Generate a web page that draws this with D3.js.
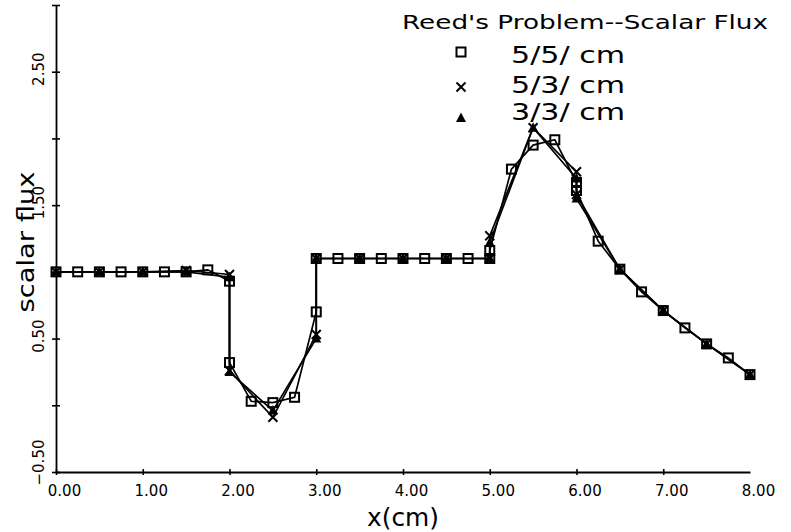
<!DOCTYPE html>
<html>
<head>
<meta charset="utf-8">
<script src="https://cdn.jsdelivr.net/npm/d3@7"></script>
<style>
  body { margin: 0; background: #fff; }
  svg text { font-family: "DejaVu Sans", sans-serif; fill: #000; }
</style>
</head>
<body>
<div class="canvas"></div>
<script>
// mesh points (a point appears twice where the flux jumps at a region edge)
const x55 = [0, 0.25, 0.5, 0.75, 1, 1.25, 1.5, 1.75, 2,
  2, 2.25, 2.5, 2.75, 3,
  3, 3.25, 3.5, 3.75, 4, 4.25, 4.5, 4.75, 5,
  5, 5.25, 5.5, 5.75, 6,
  6, 6.25, 6.5, 6.75, 7, 7.25, 7.5, 7.75, 8];
const flux55 = [1.0, 1.0, 1.0, 1.0, 1.0, 1.0, 1.0, 1.015, 0.93,
  0.32, 0.03, 0.02, 0.06, 0.70,
  1.10, 1.10, 1.10, 1.10, 1.10, 1.10, 1.10, 1.10, 1.10,
  1.16, 1.77, 1.95, 1.99, 1.67,
  1.61, 1.23, 1.02, 0.85, 0.71, 0.58, 0.46, 0.355, 0.23];

const x53 = [0, 0.5, 1, 1.5, 2,
  2, 2.5, 3,
  3, 3.5, 4, 4.5, 5,
  5, 5.5, 6,
  6, 6.5, 7, 7.5, 8];
const flux53 = [1.0, 1.0, 1.0, 1.01, 0.98,
  0.26, -0.09, 0.53,
  1.10, 1.10, 1.10, 1.10, 1.10,
  1.27, 2.08, 1.75,
  1.58, 1.02, 0.71, 0.46, 0.23];

const x33 = x53;
const flux33 = [1.0, 1.0, 1.0, 1.0, 0.96,
  0.25, -0.04, 0.50,
  1.10, 1.10, 1.10, 1.10, 1.10,
  1.22, 2.08, 1.70,
  1.55, 1.02, 0.71, 0.46, 0.23];

const seriesNames = ['5/5/ cm', '5/3/ cm', '3/3/ cm'];
const xTicks = [0, 1, 2, 3, 4, 5, 6, 7, 8];
const yTicks = [-0.5, 0, 0.5, 1, 1.5, 2, 2.5, 3];
const yLabelled = [-0.5, 0.5, 1.5, 2.5];

const series = [
  { name: seriesNames[0], xs: x55, ys: flux55, shape: 'square' },
  { name: seriesNames[1], xs: x53, ys: flux53, shape: 'cross' },
  { name: seriesNames[2], xs: x33, ys: flux33, shape: 'triangle' }
];

// plot box
const dims = { left: 56, right: 750, top: 5, bottom: 472 };

const svg = d3.select('.canvas')
  .append('svg')
  .attr('width', 791)
  .attr('height', 532);

const x = d3.scaleLinear().domain([0, 8]).range([dims.left, dims.right]);
const y = d3.scaleLinear().domain([-0.5, 3.0]).range([dims.bottom, dims.top]);

// x axis
const xAxis = svg.append('g')
  .attr('transform', `translate(0, ${dims.bottom})`)
  .call(d3.axisBottom(x).tickValues(xTicks).tickSizeOuter(0).tickSizeInner(4)
    .tickFormat(d3.format('.2f')));
xAxis.select('.domain').attr('stroke-width', 1.8);
xAxis.selectAll('.tick line').attr('y1', -3).attr('y2', 3).attr('stroke-width', 1.6)
  .filter(d => d === 8).remove();
xAxis.selectAll('.tick text')
  .attr('dx', 8).attr('y', 24).attr('dy', 0)
  .attr('font-size', 15);

// y axis
const yAxis = svg.append('g')
  .attr('transform', `translate(${dims.left}, 0)`)
  .call(d3.axisLeft(y).tickValues(yTicks).tickSizeOuter(0).tickSizeInner(4)
    .tickFormat(d => yLabelled.includes(d) ? d3.format('.2f')(d).replace('-', '\u2212') : ''));
yAxis.select('.domain').attr('stroke-width', 1.8);
yAxis.selectAll('.tick line').attr('x1', -4).attr('x2', 4).attr('stroke-width', 1.6);
yAxis.selectAll('.tick text')
  .attr('x', 0).attr('dy', 0)
  .attr('font-size', 15)
  .attr('text-anchor', d => d === -0.5 ? 'start' : 'middle')
  .attr('transform', d => d === -0.5 ? 'translate(-12, 13) rotate(-90)' : 'translate(-12, -3) rotate(-90)');

// axis titles
svg.append('text')
  .attr('x', 403).attr('y', 526)
  .attr('text-anchor', 'middle')
  .attr('font-size', 25)
  .attr('textLength', 72)
  .attr('lengthAdjust', 'spacingAndGlyphs')
  .text('x(cm)');

svg.append('text')
  .attr('transform', 'translate(34, 242) rotate(-90)')
  .attr('text-anchor', 'middle')
  .attr('font-size', 23)
  .attr('textLength', 141)
  .attr('lengthAdjust', 'spacingAndGlyphs')
  .text('scalar flux');

// lines
const line = d3.line()
  .x(d => x(d[0]))
  .y(d => y(d[1]));

const graph = svg.append('g');

series.forEach(s => {
  graph.append('path')
    .datum(d3.zip(s.xs, s.ys))
    .attr('fill', 'none')
    .attr('stroke', '#000')
    .attr('stroke-width', 1.7)
    .attr('d', line);
});

// marker drawing
const drawMarker = (g, shape, cx, cy) => {
  if (shape === 'square') {
    g.append('rect')
      .attr('x', cx - 4.5).attr('y', cy - 4.5)
      .attr('width', 9).attr('height', 9)
      .attr('fill', 'none').attr('stroke', '#000').attr('stroke-width', 2);
  } else if (shape === 'cross') {
    g.append('path')
      .attr('d', `M${cx - 4.5},${cy - 4.5}L${cx + 4.5},${cy + 4.5}M${cx - 4.5},${cy + 4.5}L${cx + 4.5},${cy - 4.5}`)
      .attr('stroke', '#000').attr('stroke-width', 2);
  } else {
    g.append('path')
      .attr('d', `M${cx},${cy - 5.5}L${cx + 5},${cy + 4}L${cx - 5},${cy + 4}Z`)
      .attr('fill', '#000');
  }
};

series.forEach(s => {
  const g = graph.append('g');
  s.xs.forEach((xv, i) => drawMarker(g, s.shape, x(xv), y(s.ys[i])));
});

// legend
svg.append('text')
  .attr('x', 402).attr('y', 29)
  .attr('font-size', 20)
  .attr('textLength', 366)
  .attr('lengthAdjust', 'spacingAndGlyphs')
  .text("Reed's Problem--Scalar Flux");

const legendRows = [
  { my: 52, ty: 63 },
  { my: 87, ty: 93 },
  { my: 118, ty: 120 }
];
series.forEach((s, i) => {
  const g = svg.append('g');
  drawMarker(g, s.shape, 461, legendRows[i].my);
  g.append('text')
    .attr('x', 511).attr('y', legendRows[i].ty)
    .attr('font-size', 23)
    .attr('textLength', 114)
    .attr('lengthAdjust', 'spacingAndGlyphs')
    .text(s.name);
});
</script>
</body>
</html>
